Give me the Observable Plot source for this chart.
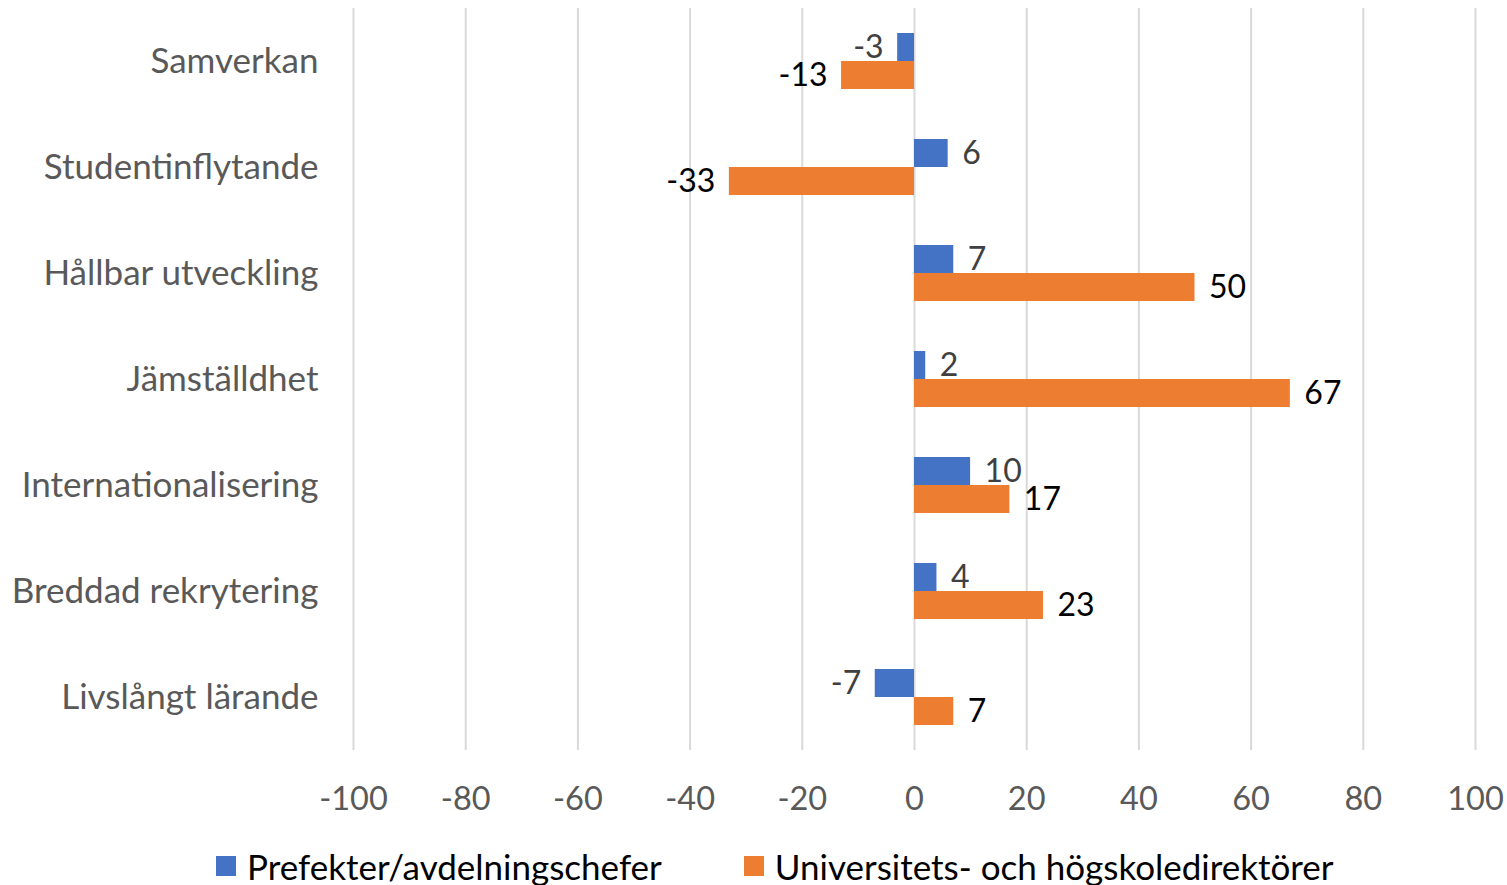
<!DOCTYPE html>
<html>
<head>
<meta charset="utf-8">
<script src="https://cdn.jsdelivr.net/npm/d3@7"></script>
<script src="https://cdn.jsdelivr.net/npm/@observablehq/plot@0.6"></script>
<style>
  html, body { margin: 0; padding: 0; background: #fff; }
  body { width: 1507px; height: 885px; position: relative; overflow: hidden; font-family: Lato, "Open Sans", sans-serif; }
  #legend { position: absolute; top: 844px; left: 216px; display: flex; align-items: center; font-size: 35px; line-height: 44px; color: #000; white-space: nowrap; }
  .item { display: flex; align-items: center; }
  .sw { width: 20px; height: 20px; margin-right: 11px; }
</style>
</head>
<body>
<div id="chart"></div>
<div id="legend"></div>
<script>
const categories = ["Samverkan", "Studentinflytande", "Hållbar utveckling", "Jämställdhet", "Internationalisering", "Breddad rekrytering", "Livslångt lärande"];
const seriesNames = ["Prefekter/avdelningschefer", "Universitets- och högskoledirektörer"];
const prefekter = [-3, 6, 7, 2, 10, 4, -7];
const direktorer = [-13, -33, 50, 67, 17, 23, 7];
const xTicks = [-100, -80, -60, -40, -20, 0, 20, 40, 60, 80, 100];
const colors = ["#4472C4", "#ED7D31"];
const labelColors = ["#404040", "#000000"];

const data = [];
categories.forEach((c, i) => {
  data.push({cat: c, series: seriesNames[0], value: prefekter[i]});
  data.push({cat: c, series: seriesNames[1], value: direktorer[i]});
});

const labelMarks = [];
seriesNames.forEach((s, k) => {
  const pos = data.filter(d => d.series === s && d.value >= 0);
  const neg = data.filter(d => d.series === s && d.value < 0);
  const common = {fy: "cat", y: "series", x: "value", text: d => String(d.value), fill: labelColors[k], fontSize: 32, lineAnchor: "middle"};
  labelMarks.push(Plot.text(pos, {...common, textAnchor: "start", dx: 14}));
  labelMarks.push(Plot.text(neg, {...common, textAnchor: "end", dx: -14}));
});

const chart = Plot.plot({
  width: 1507,
  height: 840,
  marginLeft: 353,
  marginRight: 32,
  marginTop: 8,
  marginBottom: 90,
  style: {fontFamily: "Lato, 'Open Sans', sans-serif", background: "#fff"},
  x: {domain: [-100, 100], ticks: xTicks, tickFormat: d => String(d), tickSize: 0, tickPadding: 36, label: null},
  y: {domain: seriesNames, axis: null, paddingInner: 0, paddingOuter: 0.89},
  fy: {domain: categories, padding: 0, label: null},
  color: {domain: seriesNames, range: colors},
  marks: [
    Plot.ruleX(xTicks, {stroke: "#d9d9d9", strokeWidth: 2}),
    Plot.barX(data, {fy: "cat", y: "series", x: "value", fill: "series"}),
    ...labelMarks,
    Plot.axisX({ticks: xTicks, tickFormat: d => String(d), tickSize: 0, tickPadding: 36, fontSize: 32.5, fill: "#595959", label: null}),
    Plot.axisFy({anchor: "left", tickSize: 0, tickPadding: 35, fontSize: 35, fill: "#595959", label: null})
  ]
});
document.getElementById("chart").appendChild(chart);

const legend = document.getElementById("legend");
seriesNames.forEach((s, k) => {
  const item = document.createElement("div");
  item.className = "item";
  if (k > 0) item.style.marginLeft = "82px";
  const sw = document.createElement("span");
  sw.className = "sw";
  sw.style.background = colors[k];
  const t = document.createElement("span");
  t.textContent = s;
  item.appendChild(sw);
  item.appendChild(t);
  legend.appendChild(item);
});
</script>
</body>
</html>
